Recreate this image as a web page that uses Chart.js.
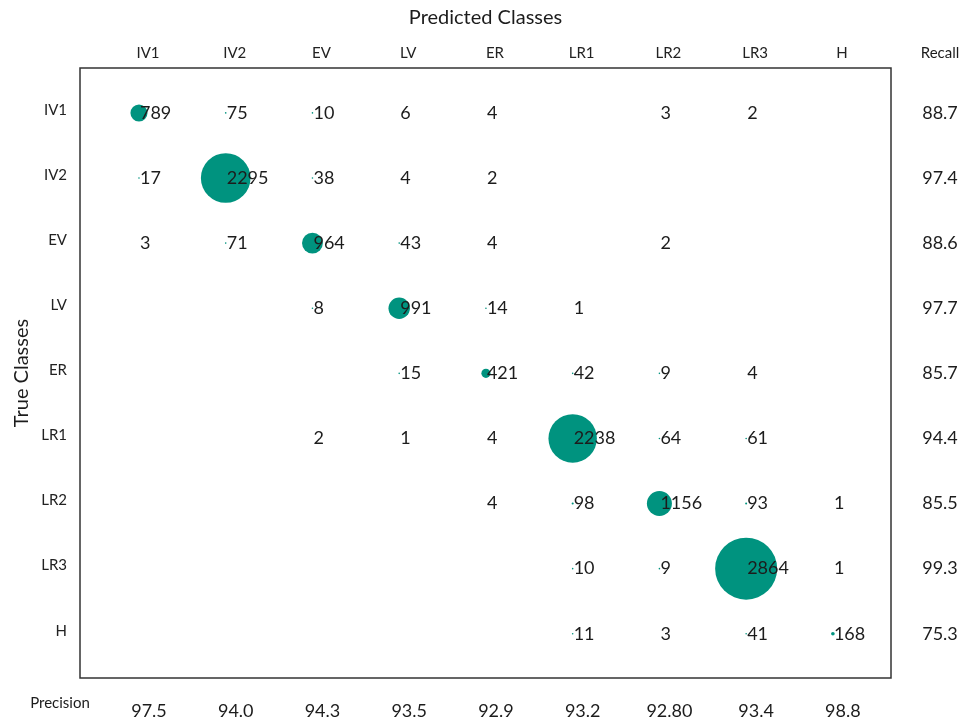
<!DOCTYPE html>
<html>
<head>
<meta charset="utf-8">
<script src="https://cdn.jsdelivr.net/npm/chart.js@4"></script>
<style>
  body { margin: 0; background: #fff; }
  #wrap { width: 970px; height: 720px; }
</style>
</head>
<body>
<div id="wrap"><canvas id="cmChart"></canvas></div>
<script>
// class names (predicted = columns, true = rows)
const classes = ['IV1', 'IV2', 'EV', 'LV', 'ER', 'LR1', 'LR2', 'LR3', 'H'];

// confusion matrix counts, one array per true class (0 = empty cell)
const rowIV1 = [789, 75, 10, 6, 4, 0, 3, 2, 0];
const rowIV2 = [17, 2295, 38, 4, 2, 0, 0, 0, 0];
const rowEV  = [3, 71, 964, 43, 4, 0, 2, 0, 0];
const rowLV  = [0, 0, 8, 991, 14, 1, 0, 0, 0];
const rowER  = [0, 0, 0, 15, 421, 42, 9, 4, 0];
const rowLR1 = [0, 0, 2, 1, 4, 2238, 64, 61, 0];
const rowLR2 = [0, 0, 0, 0, 4, 98, 1156, 93, 1];
const rowLR3 = [0, 0, 0, 0, 0, 10, 9, 2864, 1];
const rowH   = [0, 0, 0, 0, 0, 11, 3, 41, 168];

const recall = ['88.7', '97.4', '88.6', '97.7', '85.7', '94.4', '85.5', '99.3', '75.3'];
const precision = ['97.5', '94.0', '94.3', '93.5', '92.9', '93.2', '92.80', '93.4', '98.8'];

const matrix = [rowIV1, rowIV2, rowEV, rowLV, rowER, rowLR1, rowLR2, rowLR3, rowH];

const TEAL = '#00937f';
const TEXT = '#1c1c1c';
const numFont = '18px Lato, "Noto Sans", sans-serif';
const labelFont = { family: 'Lato, "Noto Sans", sans-serif', size: 15 };

// build bubble points; radius grows linearly with the count
// (counts of 8+ keep a tiny visible dot, like the original)
const points = [];
matrix.forEach((row, r) => {
  row.forEach((v, c) => {
    if (v > 0) {
      let rad = v / 92.4;
      if (v >= 8) rad = Math.max(rad, 0.8);
      points.push({ x: c, y: r, r: rad, v: v });
    }
  });
});

// draws the frame, cell counts, recall and precision columns
const annotations = {
  id: 'annotations',
  beforeDatasetsDraw(chart) {
    const { ctx, chartArea } = chart;
    ctx.save();
    ctx.strokeStyle = '#333';
    ctx.lineWidth = 1.5;
    ctx.strokeRect(chartArea.left, chartArea.top, chartArea.right - chartArea.left, chartArea.bottom - chartArea.top);
    ctx.restore();
  },
  afterDatasetsDraw(chart) {
    const { ctx, chartArea } = chart;
    const xs = chart.scales.x;
    const ys = chart.scales.y;
    ctx.save();
    ctx.fillStyle = TEXT;
    ctx.font = numFont;
    ctx.textBaseline = 'middle';
    ctx.textAlign = 'left';
    points.forEach(p => {
      ctx.fillText(String(p.v), xs.getPixelForValue(p.x) + 1, ys.getPixelForValue(p.y));
    });

    // recall column on the right
    ctx.textAlign = 'center';
    const rx = chartArea.right + 49;
    recall.forEach((t, i) => ctx.fillText(t, rx, ys.getPixelForValue(i)));
    ctx.font = '15px Lato, "Noto Sans", sans-serif';
    ctx.fillText('Recall', rx, 53);

    // precision row at the bottom
    ctx.fillText('Precision', 60, 703);
    ctx.font = numFont;
    precision.forEach((t, i) => ctx.fillText(t, xs.getPixelForValue(i) + 10, 711));
    ctx.restore();
  }
};

new Chart(document.getElementById('cmChart'), {
  type: 'bubble',
  data: {
    datasets: [{
      data: points,
      backgroundColor: TEAL,
      borderColor: TEAL,
      borderWidth: 0,
      hoverRadius: 0
    }]
  },
  options: {
    responsive: true,
    maintainAspectRatio: false,
    animation: false,
    layout: { padding: { left: 0, right: 79, top: 0, bottom: 42 } },
    plugins: {
      legend: { display: false },
      tooltip: { enabled: false }
    },
    scales: {
      x: {
        type: 'linear',
        position: 'top',
        min: -0.68,
        max: 8.67,
        afterFit(scale) { scale.height = 68; },
        afterBuildTicks(scale) { scale.ticks = classes.map((c, i) => ({ value: i })); },
        grid: { display: false, drawTicks: false },
        border: { display: false },
        ticks: {
          callback: (v) => classes[v],
          font: labelFont,
          color: '#222',
          padding: 6,
          labelOffset: 9,
          maxRotation: 0,
          autoSkip: false
        },
        title: {
          display: true,
          text: 'Predicted Classes',
          font: { family: 'Lato, "Noto Sans", sans-serif', size: 20 },
          color: TEXT,
          padding: { top: 6, bottom: 0 }
        }
      },
      y: {
        type: 'linear',
        reverse: true,
        min: -0.69,
        max: 8.68,
        afterFit(scale) { scale.width = 80; },
        afterBuildTicks(scale) { scale.ticks = classes.map((c, i) => ({ value: i })); },
        grid: { display: false, drawTicks: false },
        border: { display: false },
        ticks: {
          callback: (v) => classes[v],
          font: labelFont,
          color: '#222',
          padding: 13,
          labelOffset: -3,
          autoSkip: false
        },
        title: {
          display: true,
          text: 'True Classes',
          font: { family: 'Lato, "Noto Sans", sans-serif', size: 20 },
          color: TEXT,
          padding: { top: 10, bottom: 0 }
        }
      }
    }
  },
  plugins: [annotations]
});
</script>
</body>
</html>
